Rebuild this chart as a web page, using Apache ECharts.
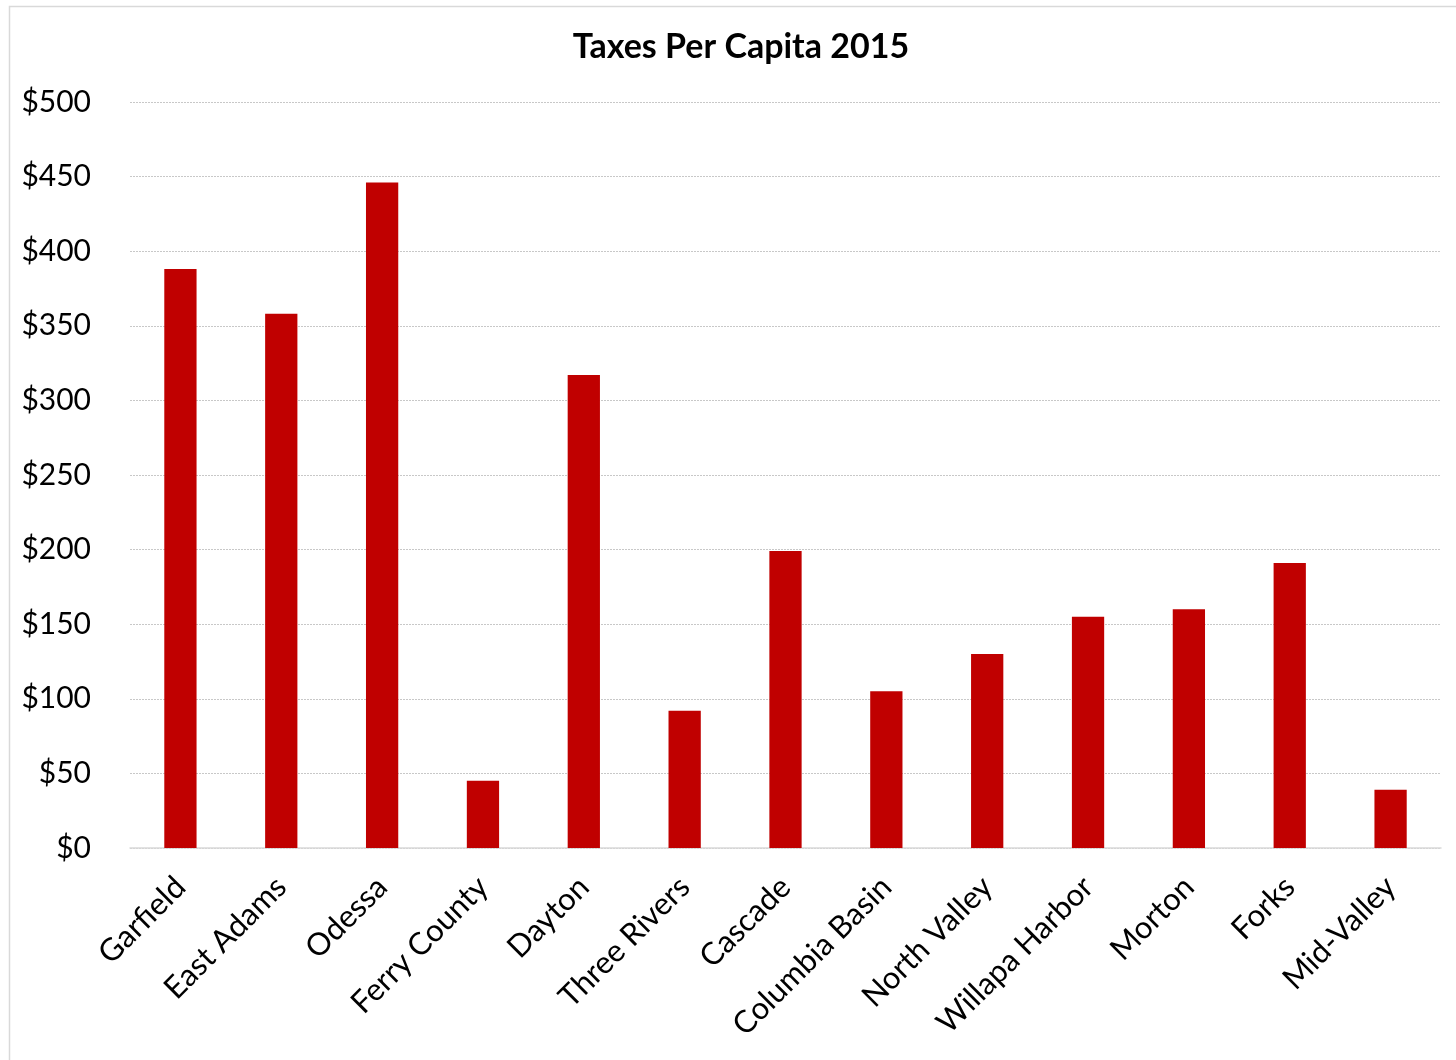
<!DOCTYPE html>
<html>
<head>
<meta charset="utf-8">
<title>Taxes Per Capita 2015</title>
<script src="https://cdn.jsdelivr.net/npm/echarts@6/dist/echarts.min.js"></script>
<style>
  html, body { margin: 0; padding: 0; background: #ffffff; }
  #chart { width: 1456px; height: 1060px; }
</style>
</head>
<body>
<div id="chart"></div>
<script>
// Per-capita taxes by district, 2015 (dollars)
const districts = ['Garfield', 'East Adams', 'Odessa', 'Ferry County', 'Dayton', 'Three Rivers',
  'Cascade', 'Columbia Basin', 'North Valley', 'Willapa Harbor', 'Morton', 'Forks', 'Mid-Valley'];
const taxesPerCapita = [388, 358, 446, 45, 317, 92, 199, 105, 130, 155, 160, 191, 39];
const yTicks = { min: 0, max: 500, interval: 50 };

const chart = echarts.init(document.getElementById('chart'), null, { renderer: 'canvas' });
const FONT = 'Lato, "Open Sans", sans-serif';

chart.setOption({
  animation: false,
  backgroundColor: '#ffffff',
  title: {
    text: 'Taxes Per Capita 2015',
    left: 736,
    top: 25,
    textAlign: 'center',
    textStyle: { fontFamily: FONT, fontSize: 34, fontWeight: 'bold', color: '#000000' }
  },
  graphic: [{
    type: 'rect',
    shape: { x: 9.5, y: 6.5, width: 1500, height: 1100 },
    style: { fill: 'none', stroke: '#d9d9d9', lineWidth: 1.5 },
    silent: true
  }],
  grid: { left: 130, right: 15, top: 102, bottom: 212, containLabel: false },
  xAxis: {
    type: 'category',
    data: districts,
    axisLine: { show: true, lineStyle: { color: '#d9d9d9', width: 1.5 } },
    axisTick: { show: false },
    axisLabel: {
      interval: 0,
      rotate: 45,
      margin: 34,
      fontFamily: FONT,
      fontSize: 31,
      color: '#000000'
    }
  },
  yAxis: {
    type: 'value',
    min: yTicks.min,
    max: yTicks.max,
    interval: yTicks.interval,
    axisLine: { show: false },
    axisTick: { show: false },
    splitLine: { show: true, lineStyle: { color: '#c8c8c8', type: [2, 1], width: 1 } },
    axisLabel: {
      margin: 39,
      fontFamily: FONT,
      fontSize: 30,
      color: '#000000',
      formatter: v => '$' + v
    }
  },
  series: [{
    type: 'bar',
    data: taxesPerCapita,
    barWidth: '32%',
    itemStyle: { color: '#c00000' }
  }]
});
</script>
</body>
</html>
